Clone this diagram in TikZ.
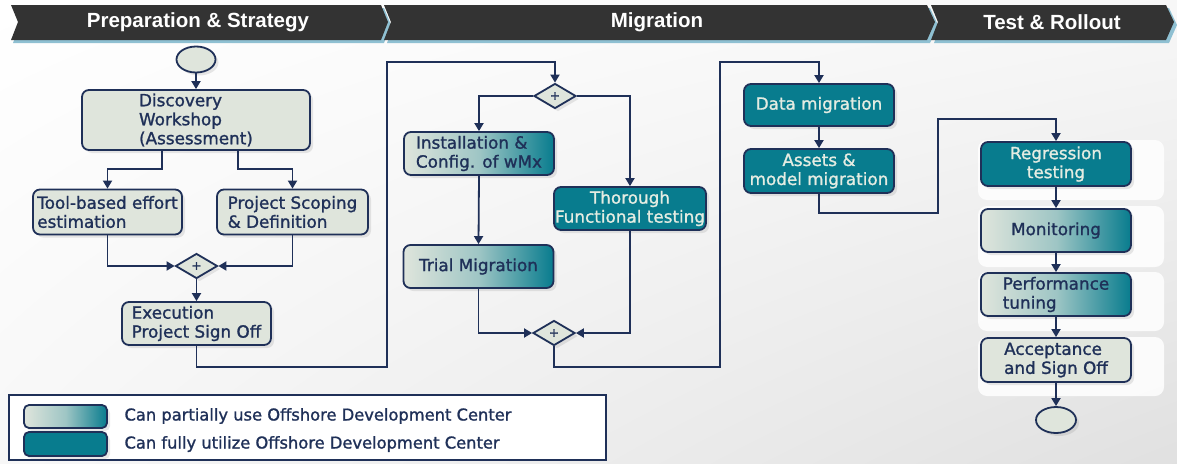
\documentclass[tikz,border=0pt]{standalone}
\usepackage{fontspec}
\setmainfont{DejaVu Sans}
\newfontfamily\boxfont{DejaVu Sans}[FakeBold=1.3]
\newfontfamily\hdrfont{Liberation Sans}
\usetikzlibrary{shapes.geometric,arrows.meta,shadows,shadings,calc}
\definecolor{navy}{RGB}{31,48,88}
\definecolor{lightfill}{RGB}{223,229,220}
\definecolor{tealbox}{RGB}{8,124,142}
\definecolor{boxtext}{RGB}{228,236,226}
\definecolor{hdr}{RGB}{51,51,51}
\definecolor{hdrblue}{RGB}{143,192,210}
\tikzset{
  box/.style={draw=navy, line width=1.8pt, rounded corners=7pt, minimum width=150pt,
    minimum height=43pt, inner sep=1pt, font=\boxfont\fontsize{16.8}{19}\selectfont, text=navy,
    drop shadow={opacity=0.18, shadow xshift=3pt, shadow yshift=-3pt}},
  lightbox/.style={box, fill=lightfill},
  gradbox/.style={box, left color=lightfill, right color=tealbox, middle color=lightfill!70!tealbox},
  fullbox/.style={box, fill=tealbox, text=boxtext},
  gate/.style={diamond, draw=navy, fill=lightfill, line width=1.8pt, minimum width=42pt,
    minimum height=25pt, inner sep=0pt, aspect=1.7, font=\boxfont\fontsize{12}{12}\selectfont, text=navy,
    drop shadow={opacity=0.18, shadow xshift=3pt, shadow yshift=-3pt}},
  terminal/.style={ellipse, draw=navy, fill=lightfill, line width=1.8pt, minimum width=39pt,
    minimum height=26pt, drop shadow={opacity=0.18, shadow xshift=3pt, shadow yshift=-3pt}},
  arr/.style={draw=navy, line width=1.8pt, -{Triangle[length=8pt,width=9pt]}},
  hdrtext/.style={font=\hdrfont\bfseries\fontsize{20.5}{22}\selectfont, text=white},
  legtext/.style={font=\boxfont\fontsize{16.3}{18}\selectfont, text=navy, anchor=west},
  panel/.style={fill=white, rounded corners=9pt, opacity=0.85}
}
\begin{document}
\begin{tikzpicture}[x=1pt, y=-1pt]
\useasboundingbox (0,0) rectangle (1177,463);
% background
\shade[upper left=white, upper right=white!97!black, lower left=white!97!black, lower right=white!88!black]
  (0,0) rectangle (1177,463);
% panels in Test & Rollout column
\fill[panel] (978,140) rectangle (1164,200);
\fill[panel] (978,206) rectangle (1164,267);
\fill[panel] (978,272) rectangle (1164,331);
\fill[panel] (978,337) rectangle (1164,396);

% header chevrons
\fill[hdrblue] (13,8) -- (384,8) -- (391,25) -- (384,43) -- (13,43) -- (20,25) -- cycle;
\fill[hdr] (11,5) -- (381,5) -- (388,22) -- (381,40) -- (11,40) -- (18,22) -- cycle;
\fill[hdrblue] (387,8) -- (930,8) -- (938,25) -- (930,43) -- (387,43) -- (394,25) -- cycle;
\fill[hdr] (384,5) -- (927,5) -- (935,22) -- (927,40) -- (384,40) -- (391,22) -- cycle;
\fill[hdrblue] (934,8) -- (1169,8) -- (1177,25) -- (1169,43) -- (934,43) -- (941,25) -- cycle;
\fill[hdr] (931,5) -- (1166,5) -- (1174,22) -- (1166,40) -- (931,40) -- (938,22) -- cycle;
\node[hdrtext] (h1) at (198,22) {Preparation \& Strategy};
\node[hdrtext] (h2) at (657,22) {Migration};
\node[hdrtext] (h3) at (1052,22) {Test \& Rollout};

% nodes
\node[terminal] (start) at (196,59.5) {};
\node[lightbox, minimum width=228pt, minimum height=60pt, align=left] (disc) at (196,120)
  {Discovery\\Workshop\\(Assessment)};
\node[lightbox, minimum width=149pt, minimum height=45pt, align=left] (tool) at (107.5,212)
  {Tool-based effort\\estimation};
\node[lightbox, minimum width=151pt, minimum height=45pt, align=left] (scope) at (292.5,212)
  {Project Scoping\\\& Definition};
\node[gate] (d1) at (196.5,266) {+};
\node[lightbox, minimum width=149pt, align=left] (exec) at (196.5,323.5)
  {Execution\\Project Sign Off};

\node[gate] (d2) at (555,96) {+};
\node[gradbox, align=left] (inst) at (479,153.5) {Installation \&\\Config. of wMx};
\node[fullbox, align=center] (thor) at (630,208.5) {Thorough\\Functional testing};
\node[gradbox, align=left] (trial) at (478.5,266.5) {Trial Migration};
\node[gate] (d3) at (554,333) {+};

\node[fullbox, minimum height=42pt] (data) at (819,105) {Data migration};
\node[fullbox, minimum height=44pt, align=center] (assets) at (819,171) {Assets \&\\model migration};

\node[fullbox, minimum height=44pt, align=center] (reg) at (1056,164) {Regression\\testing};
\node[gradbox] (mon) at (1056,230.5) {Monitoring};
\node[gradbox, align=left] (perf) at (1056,294.5) {Performance\\tuning};
\node[lightbox, minimum height=44pt, align=left] (acc) at (1056,360) {Acceptance\\and Sign Off};
\node[terminal, minimum width=40pt] (end) at (1056,420) {};

% corner coordinates
\coordinate (c1) at (387,367);
\coordinate (c2) at (387,62);
\coordinate (c3) at (720,367);
\coordinate (c4) at (720,62);
\coordinate (c5) at (938,213);
\coordinate (c6) at (938,119);

% connectors
\draw[arr] (start) -- (disc);
\draw[arr] ([xshift=-34pt]disc.south) -- ++(0,18) -| (tool.north);
\draw[arr] ([xshift=42pt]disc.south) -- ++(0,18) -| (scope.north);
\draw[arr] (tool.south) |- (d1.west);
\draw[arr] (scope.south) |- (d1.east);
\draw[arr] (d1.south) -- (exec.north);
\draw[arr] (exec.south) |- (c1) -- (c2) -| (d2.north);
\draw[arr] (d2.west) -| (inst.north);
\draw[arr] (d2.east) -| (thor.north);
\draw[arr] (inst.south) -- (trial.north);
\draw[arr] (trial.south) |- (d3.west);
\draw[arr] (thor.south) |- (d3.east);
\draw[arr] (d3.south) |- (c3) -- (c4) -| (data.north);
\draw[arr] (data) -- (assets);
\draw[arr] (assets.south) |- (c5) -- (c6) -| (reg.north);
\draw[arr] (reg) -- (mon);
\draw[arr] (mon) -- (perf);
\draw[arr] (perf) -- (acc);
\draw[arr] (acc) -- (end);

% legend
\draw[navy, line width=1.5pt, fill=white] (9,395) rectangle (606,460);
\node[gradbox, minimum width=83pt, minimum height=23pt, rounded corners=5pt, drop shadow={opacity=0}] (sw1) at (65.5,416.5) {};
\node[fullbox, minimum width=83pt, minimum height=24pt, rounded corners=5pt, drop shadow={opacity=0}] (sw2) at (65.5,444) {};
\node[legtext] (l1) at (121,416) {Can partially use Offshore Development Center};
\node[legtext] (l2) at (121,444) {Can fully utilize Offshore Development Center};
\end{tikzpicture}
\end{document}
